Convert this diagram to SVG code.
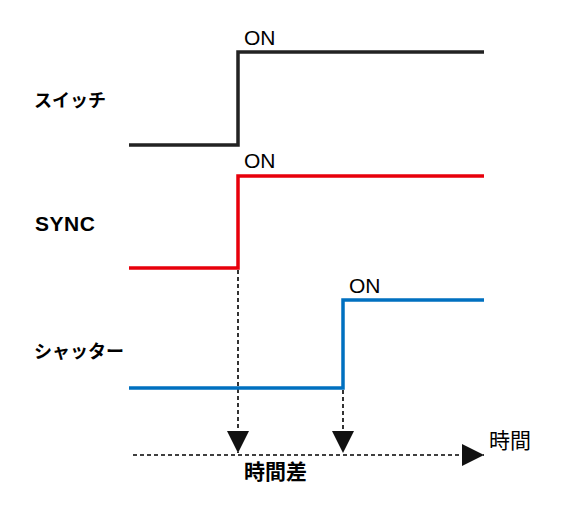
<svg xmlns="http://www.w3.org/2000/svg" width="585" height="516" viewBox="0 0 585 516">
<style>
.sig{fill:none;stroke-width:3.5;stroke-linejoin:miter;stroke-linecap:butt}
.dash{fill:none;stroke:#000;stroke-width:1.6;stroke-dasharray:4 3}
.lbl{font-family:"Noto Sans CJK JP","Liberation Sans",sans-serif;font-weight:bold;font-size:18px;fill:#000}
.on{font-family:"Liberation Sans",Arial,sans-serif;font-size:21px;fill:#000}
.jp{font-family:"Noto Sans CJK JP",sans-serif;font-size:21px;fill:#000}
</style>
<defs>
<marker id="ah" viewBox="0 0 10 10" refX="10" refY="5" markerWidth="22" markerHeight="22" markerUnits="userSpaceOnUse" orient="auto">
<path d="M0,0 L10,5 L0,10 Z" fill="#111"/>
</marker>
</defs>
<rect width="585" height="516" fill="#fff"/>
<g id="connectors">
<line class="dash" x1="238" y1="270" x2="238" y2="453" marker-end="url(#ah)"/>
<line class="dash" x1="343" y1="390" x2="343" y2="453" marker-end="url(#ah)"/>
<line class="dash" x1="133" y1="455" x2="484" y2="455" marker-end="url(#ah)"/>
</g>
<g id="switch">
<polyline class="sig" stroke="#222" points="129,145 238,145 238,52 484,52"/>
<text class="on" x="244" y="45">ON</text>
<text class="lbl" x="34" y="107">スイッチ</text>
</g>
<g id="sync">
<polyline class="sig" stroke="#e8000b" points="129,268 238,268 238,176 484,176"/>
<text class="on" x="244" y="168">ON</text>
<text class="lbl" x="35" y="231" style="font-family:'Liberation Sans',Arial,sans-serif;font-size:21px" textLength="60" lengthAdjust="spacing">SYNC</text>
</g>
<g id="shutter">
<polyline class="sig" stroke="#0070c0" points="129,388 343,388 343,300 484,300"/>
<text class="on" x="349" y="293">ON</text>
<text class="lbl" x="34" y="358">シャッター</text>
</g>
<g id="axis-labels">
<text class="jp" x="489" y="448">時間</text>
<text class="jp" x="244" y="479" font-weight="bold">時間差</text>
</g>
</svg>
